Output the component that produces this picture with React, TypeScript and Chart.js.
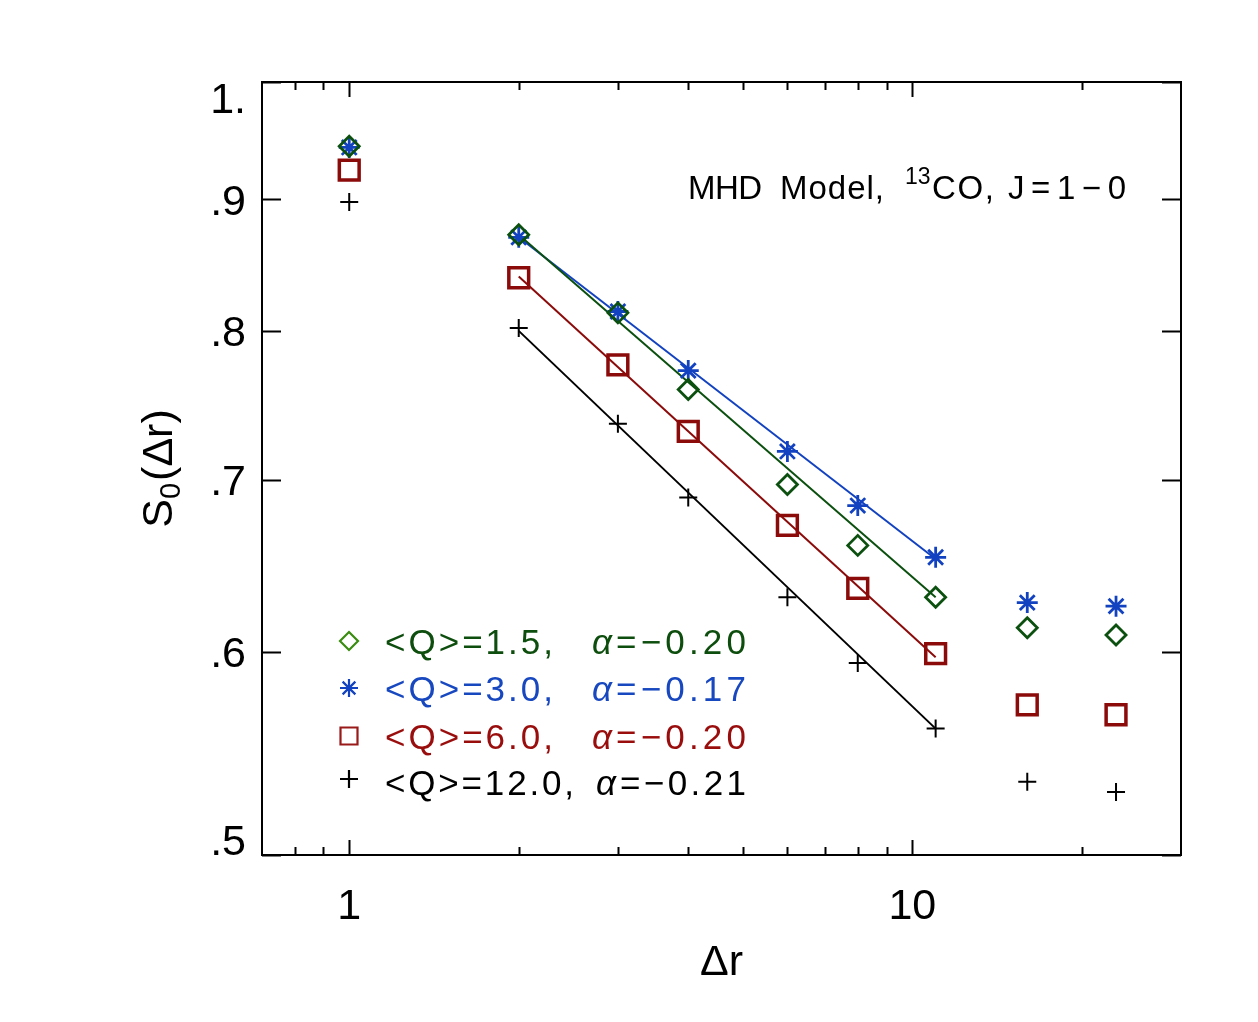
import { useEffect, useRef } from "react";
import { Chart, registerables } from "chart.js";

Chart.register(...registerables);

// lag distances (x) and structure function values S0
const distances = [1, 2, 3, 4, 6, 8, 11, 16, 23];
const sQ15 = [0.944, 0.872, 0.813, 0.759, 0.697, 0.66, 0.63, 0.613, 0.609];
const sQ30 = [0.943, 0.87, 0.814, 0.772, 0.718, 0.684, 0.653, 0.627, 0.625];
const sQ60 = [0.924, 0.839, 0.776, 0.731, 0.672, 0.635, 0.599, 0.572, 0.567];
const sQ120 = [0.898, 0.802, 0.736, 0.689, 0.63, 0.594, 0.56, 0.534, 0.529];

// power-law fit lines, end points only
const fitRange = [2, 11];
const fitQ15 = [0.872, 0.63];
const fitQ30 = [0.87, 0.652];
const fitQ60 = [0.84, 0.597];
const fitQ120 = [0.8, 0.56];

const xMajorTicks = [1, 10];
const xMajorLabels = ["1", "10"];
const xMinorTicks = [0.8, 0.9, 2, 3, 4, 5, 6, 7, 8, 9, 20];
const yTicks = [0.5, 0.6, 0.7, 0.8, 0.9, 1.0];
const yTickLabels = [".5", ".6", ".7", ".8", ".9", "1."];

const legendQ = ["<Q>=1.5,", "<Q>=3.0,", "<Q>=6.0,", "<Q>=12.0,"];
const legendAlpha = ["=−0.20", "=−0.17", "=−0.20", "=−0.21"];

const GREEN = "#0b500f";
const BLUE = "#1242c0";
const RED = "#8b0a0a";
const BLACK = "#000000";

const FONT = '"Liberation Sans", Arial, sans-serif';

const pts = (xs: number[], ys: number[]) => xs.map((x, i) => ({ x, y: ys[i] }));

function fitText(ctx: CanvasRenderingContext2D, text: string, x: number, y: number, width?: number) {
  const c = ctx as any;
  c.letterSpacing = "0px";
  if (width) {
    const natural = ctx.measureText(text).width;
    const n = [...text].length;
    if (n > 1) c.letterSpacing = `${(width - natural) / (n - 1)}px`;
  }
  ctx.fillText(text, x, y);
  c.letterSpacing = "0px";
}

function drawMarker(ctx: CanvasRenderingContext2D, style: string, x: number, y: number, r: number, color: string, lw: number) {
  ctx.save();
  ctx.strokeStyle = color;
  ctx.lineWidth = lw;
  ctx.beginPath();
  if (style === "diamond") {
    ctx.moveTo(x, y - r);
    ctx.lineTo(x + r, y);
    ctx.lineTo(x, y + r);
    ctx.lineTo(x - r, y);
    ctx.closePath();
  } else if (style === "square") {
    ctx.rect(x - r, y - r, 2 * r, 2 * r);
  } else if (style === "star") {
    const d = r * Math.SQRT1_2;
    ctx.moveTo(x, y - r);
    ctx.lineTo(x, y + r);
    ctx.moveTo(x - r, y);
    ctx.lineTo(x + r, y);
    ctx.moveTo(x - d, y - d);
    ctx.lineTo(x + d, y + d);
    ctx.moveTo(x - d, y + d);
    ctx.lineTo(x + d, y - d);
  } else {
    ctx.moveTo(x, y - r);
    ctx.lineTo(x, y + r);
    ctx.moveTo(x - r, y);
    ctx.lineTo(x + r, y);
  }
  ctx.stroke();
  ctx.restore();
}

const idlFrame = {
  id: "idlFrame",
  afterDraw(chart: any) {
    const { ctx, chartArea: a, scales } = chart;
    const xs = scales.x;
    const ys = scales.y;
    ctx.save();

    // box
    ctx.strokeStyle = BLACK;
    ctx.lineWidth = 2;
    ctx.strokeRect(a.left, a.top, a.right - a.left, a.bottom - a.top);

    // inward ticks on all four sides
    ctx.beginPath();
    const tick = (v: number, len: number) => {
      const px = Math.round(xs.getPixelForValue(v)) + 0.5;
      ctx.moveTo(px, a.bottom);
      ctx.lineTo(px, a.bottom - len);
      ctx.moveTo(px, a.top);
      ctx.lineTo(px, a.top + len);
    };
    xMajorTicks.forEach((v) => tick(v, 15));
    xMinorTicks.forEach((v) => tick(v, 8));
    yTicks.forEach((v) => {
      const py = Math.round(ys.getPixelForValue(v)) + 0.5;
      ctx.moveTo(a.left, py);
      ctx.lineTo(a.left + 19, py);
      ctx.moveTo(a.right, py);
      ctx.lineTo(a.right - 19, py);
    });
    ctx.stroke();

    // tick labels
    ctx.fillStyle = BLACK;
    const tickSize = 43;
    const cap = tickSize * 0.716;
    ctx.font = `${tickSize}px ${FONT}`;
    ctx.textAlign = "right";
    ctx.textBaseline = "alphabetic";
    yTicks.forEach((v, i) => {
      let cy = ys.getPixelForValue(v);
      cy = Math.min(Math.max(cy, a.top + cap / 2), a.bottom - cap / 2);
      fitText(ctx, yTickLabels[i], a.left - 16, cy + cap / 2);
    });
    ctx.textAlign = "center";
    xMajorTicks.forEach((v, i) => {
      fitText(ctx, xMajorLabels[i], xs.getPixelForValue(v), a.bottom + 33 + cap);
    });

    // axis titles
    ctx.font = `${tickSize}px ${FONT}`;
    ctx.textAlign = "center";
    fitText(ctx, "Δr", (a.left + a.right) / 2, a.bottom + 120);

    ctx.save();
    ctx.translate(a.left - 90, (a.top + a.bottom) / 2);
    ctx.rotate(-Math.PI / 2);
    ctx.textAlign = "left";
    const big = `${tickSize}px ${FONT}`;
    const small = `29px ${FONT}`;
    ctx.font = big;
    const wS = ctx.measureText("S").width;
    const wRest = ctx.measureText("(Δr)").width;
    ctx.font = small;
    const w0 = ctx.measureText("0").width + 2;
    let sx = -(wS + w0 + wRest) / 2;
    ctx.font = big;
    ctx.fillText("S", sx, 0);
    sx += wS;
    ctx.font = small;
    ctx.fillText("0", sx, 8);
    sx += w0;
    ctx.font = big;
    ctx.fillText("(Δr)", sx, 0);
    ctx.restore();

    // annotation
    ctx.textAlign = "left";
    ctx.font = `33px ${FONT}`;
    fitText(ctx, "MHD", 688, 199, 74);
    fitText(ctx, "Model,", 780, 199, 104);
    ctx.font = `23px ${FONT}`;
    fitText(ctx, "13", 905, 184);
    ctx.font = `33px ${FONT}`;
    fitText(ctx, "CO,", 932, 199, 62);
    fitText(ctx, "J=1−0", 1008, 199, 118);

    // legend
    const rowsY = [641, 688, 736, 782];
    const textColors = ["#0d4d0d", "#1848c0", "#9a0d0d", BLACK];
    const markerColors = ["#3a8c10", BLUE, "#9a1a1a", BLACK];
    const styles = ["diamond", "star", "square", "plus"];
    const qWidths = [168, 168, 168, 189];
    const alphaX = [592, 592, 592, 596];
    const lsize = 35;
    const lcap = lsize * 0.716;
    rowsY.forEach((y, i) => {
      drawMarker(ctx, styles[i], 349, y - (i === 3 ? 3 : 0), styles[i] === "square" ? 8.5 : 9, markerColors[i], 2.2);
      ctx.fillStyle = textColors[i];
      ctx.font = `${lsize}px ${FONT}`;
      fitText(ctx, legendQ[i], 385, y + lcap / 2, qWidths[i]);
      ctx.font = `italic ${lsize}px ${FONT}`;
      fitText(ctx, "α", alphaX[i], y + lcap / 2);
      ctx.font = `${lsize}px ${FONT}`;
      fitText(ctx, legendAlpha[i], alphaX[i] + 24, y + lcap / 2, 746 - alphaX[i] - 24);
    });

    ctx.restore();
  },
};

export default function App() {
  const canvasRef = useRef<HTMLCanvasElement>(null);
  const chartRef = useRef<Chart | null>(null);

  useEffect(() => {
    document.body.style.margin = "0";
    if (!canvasRef.current) return;

    const markers = (label: string, data: number[], color: string, pointStyle: any, radius: number, width: number) => ({
      type: "scatter" as const,
      label,
      data: pts(distances, data),
      showLine: false,
      pointStyle,
      pointRadius: radius,
      pointBorderWidth: width,
      pointBorderColor: color,
      pointBackgroundColor: "rgba(0,0,0,0)",
    });
    const fit = (label: string, data: number[], color: string) => ({
      type: "line" as const,
      label,
      data: pts(fitRange, data),
      borderColor: color,
      borderWidth: 2,
      pointRadius: 0,
      fill: false,
      tension: 0,
    });

    chartRef.current?.destroy();
    chartRef.current = new Chart(canvasRef.current, {
      type: "scatter",
      data: {
        datasets: [
          markers("<Q>=1.5", sQ15, GREEN, "rectRot", 10, 2.8),
          markers("<Q>=3.0", sQ30, BLUE, "star", 10.5, 2.8),
          markers("<Q>=6.0", sQ60, RED, "rect", 14, 3.5),
          markers("<Q>=12.0", sQ120, BLACK, "cross", 9, 2),
          fit("fit 1.5", fitQ15, GREEN),
          fit("fit 3.0", fitQ30, BLUE),
          fit("fit 6.0", fitQ60, RED),
          fit("fit 12.0", fitQ120, BLACK),
        ] as any,
      },
      options: {
        responsive: false,
        animation: false,
        devicePixelRatio: 1,
        clip: false as any,
        layout: { padding: { left: 262, right: 77, top: 82, bottom: 167 } },
        plugins: { legend: { display: false }, tooltip: { enabled: false } },
        scales: {
          x: { type: "logarithmic", min: 0.704, max: 30, display: false },
          y: { type: "logarithmic", min: 0.5, max: 1.0, display: false },
        },
      },
      plugins: [idlFrame],
    });

    return () => chartRef.current?.destroy();
  }, []);

  return (
    <div style={{ width: 1258, height: 1022, background: "#fff" }}>
      <canvas ref={canvasRef} width={1258} height={1022} style={{ display: "block" }} />
    </div>
  );
}
